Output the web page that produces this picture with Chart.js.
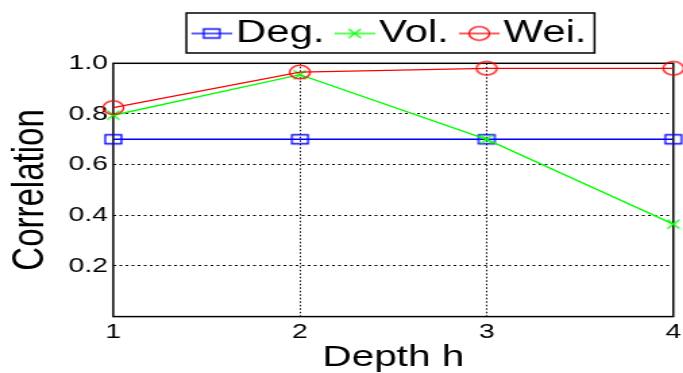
<!DOCTYPE html>
<html>
<head>
<meta charset="utf-8">
<script src="https://cdn.jsdelivr.net/npm/chart.js@4/dist/chart.umd.min.js"></script>
<style>
  html, body { margin: 0; padding: 0; background: #fff; overflow: hidden; }
  #wrap { position: absolute; left: 0; top: 0; width: 510px; height: 373px; transform: scaleX(1.35); transform-origin: 0 0; }
  #c { width: 510px; height: 373px; }
</style>
</head>
<body>
<div id="wrap"><canvas id="c" width="510" height="373"></canvas></div>
<script>
// ---- data ----
const depths = [1, 2, 3, 4];
const degValues = [0.70, 0.70, 0.70, 0.70];
const volValues = [0.795, 0.955, 0.70, 0.365];
const weiValues = [0.825, 0.965, 0.98, 0.98];
const seriesNames = ['Deg.', 'Vol.', 'Wei.'];
const yTickValues = [0.2, 0.4, 0.6, 0.8, 1.0];
const xTitle = 'Depth h';
const yTitle = 'Correlation';

// ---- styles ----
const FONT = "'Liberation Sans', Arial, Helvetica, sans-serif";
const colors = ['#0000ff', '#00ff00', '#ff0000'];
const kinds = ['square', 'cross', 'circle'];

function drawMarker(g, kind, cx, cy) {
  g.beginPath();
  if (kind === 'square') g.rect(cx - 6, cy - 4.5, 12, 9);
  else if (kind === 'circle') g.ellipse(cx, cy, 7.6, 6.8, 0, 0, 2 * Math.PI);
  else { g.moveTo(cx - 4.5, cy - 4.5); g.lineTo(cx + 4.5, cy + 4.5); g.moveTo(cx + 4.5, cy - 4.5); g.lineTo(cx - 4.5, cy + 4.5); }
  g.stroke();
}
function markerImg(kind, color) {
  const c = document.createElement('canvas'); c.width = 20; c.height = 18;
  const g = c.getContext('2d'); g.strokeStyle = color; g.lineWidth = 1.3;
  drawMarker(g, kind, 10, 9);
  return c;
}
const B = 11;   // legend box width
const LP = 14;  // legend padding
function legendImg(kind, color) {
  const w = B + 25, h = 20;
  const c = document.createElement('canvas'); c.width = w; c.height = h;
  const g = c.getContext('2d'); g.strokeStyle = color; g.lineWidth = 1.3;
  g.beginPath(); g.moveTo(w - 30, h / 2); g.lineTo(w, h / 2); g.stroke();
  drawMarker(g, kind, w - 15, h / 2);
  return c;
}

const seriesValues = [degValues, volValues, weiValues];
const datasets = seriesValues.map((vals, i) => ({
  label: seriesNames[i],
  data: depths.map((d, j) => ({ x: d, y: vals[j] })),
  borderColor: colors[i],
  backgroundColor: colors[i],
  borderWidth: 1.4,
  pointStyle: markerImg(kinds[i], colors[i]),
  pointRadius: 6,
  tension: 0,
  clip: false,
  order: 3 - i
}));

const boxPlugin = {
  id: 'boxPlugin',
  afterInit(chart) {
    const lg = chart.legend;
    const f = lg.fit.bind(lg);
    lg.fit = function () { f(); this.height += 4.3; };
  },
  beforeDatasetsDraw(chart) {
    const { ctx, chartArea: a } = chart;
    ctx.save();
    ctx.strokeStyle = '#000';
    ctx.lineWidth = 1.5;
    ctx.strokeRect(a.left, a.top, a.right - a.left, a.bottom - a.top);
    ctx.restore();
  },
  afterDraw(chart) {
    const hb = chart.legend.legendHitBoxes;
    if (!hb || !hb.length) return;
    const first = hb[0], last = hb[hb.length - 1];
    const l = first.left + B - 21.2, r = last.left + last.width + 6;
    const t = first.top - 5, b = first.top + 35;
    const ctx = chart.ctx;
    ctx.save();
    ctx.strokeStyle = '#000';
    ctx.lineWidth = 1.5;
    ctx.strokeRect(l, t, r - l, b - t);
    ctx.restore();
  }
};

new Chart(document.getElementById('c'), {
  type: 'line',
  data: { datasets },
  options: {
    responsive: false,
    animation: false,
    devicePixelRatio: 1,
    layout: { padding: { top: 18 - LP, left: 6.7, right: 0, bottom: 0 } },
    plugins: {
      tooltip: { enabled: false },
      legend: {
        position: 'top',
        fullSize: false,
        labels: {
          usePointStyle: true,
          pointStyleWidth: B,
          padding: LP,
          color: '#000',
          font: { family: FONT, size: 31 },
          generateLabels: () => seriesNames.map((n, i) => ({
            text: n,
            pointStyle: legendImg(kinds[i], colors[i]),
            fillStyle: 'rgba(0,0,0,0)',
            strokeStyle: 'rgba(0,0,0,0)',
            lineWidth: 0,
            hidden: false,
            datasetIndex: i,
            fontColor: '#000'
          }))
        }
      }
    },
    scales: {
      x: {
        type: 'linear',
        min: 1, max: 4,
        afterBuildTicks: s => { s.ticks = depths.map(v => ({ value: v })); },
        ticks: {
          color: '#000',
          padding: 5.4,
          maxRotation: 0,
          font: { family: FONT, size: 21, lineHeight: 1 },
          callback: v => String(v)
        },
        grid: {
          drawTicks: false,
          lineWidth: 1,
          color: c => (c.tick && (c.tick.value === 1 || c.tick.value === 4)) ? 'rgba(0,0,0,0)' : '#000'
        },
        border: { display: false, dash: [1.5, 2] },
        title: {
          display: true, text: xTitle, color: '#000',
          font: { family: FONT, size: 30, lineHeight: 1 },
          padding: { top: -5.4, bottom: 0 }
        }
      },
      y: {
        type: 'linear',
        min: 0, max: 1,
        afterBuildTicks: s => { s.ticks = [0].concat(yTickValues).map(v => ({ value: v })); },
        ticks: {
          color: '#000',
          padding: 4,
          font: { family: FONT, size: 21, lineHeight: 1 },
          callback: v => (Math.abs(v) < 1e-9 ? '' : Number(v).toFixed(1))
        },
        grid: {
          drawTicks: false,
          lineWidth: 1,
          color: c => (c.tick && (Math.abs(c.tick.value) < 1e-9 || Math.abs(c.tick.value - 1) < 1e-9)) ? 'rgba(0,0,0,0)' : '#000'
        },
        border: { display: false, dash: [2, 2.5] },
        title: {
          display: true, text: yTitle, color: '#000',
          font: { family: FONT, size: 33, lineHeight: 1 },
          padding: { top: 0, bottom: 7 }
        }
      }
    }
  },
  plugins: [boxPlugin]
});
</script>
</body>
</html>
